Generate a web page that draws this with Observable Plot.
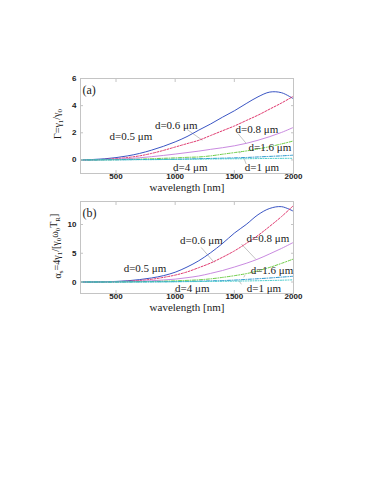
<!DOCTYPE html>
<html><head><meta charset="utf-8">
<script src="https://cdn.jsdelivr.net/npm/d3@7"></script>
<script src="https://cdn.jsdelivr.net/npm/@observablehq/plot@0.6"></script>
<style>
body{margin:0;background:#fff;}
#wrap{position:relative;width:382px;height:494px;overflow:hidden;background:#fff;}
#wrap svg{position:absolute;left:0;overflow:visible;background:transparent;}
</style></head><body><div id="wrap"></div>
<script>
// ---- data ----
const wavelengths = [200,300,400,500,600,700,800,900,1000,1100,1200,1300,1400,1500,1600,1700,1800,1900,2000];
const seriesKeys = ["d06","d05","d08","d16","d1","d4"];
const seriesColors = ["#3a55c4","#e0386e","#c98ae0","#6ccc44","#2a96cc","#3ec8c8"];
const seriesDash = ["none","2,1.5","none","3,1.5,1,1.5","3,1.5,1,1.5","1,1.5"];

// panel (a): Gamma = gamma1/gamma0
const gammaA = [
  [0,0.03,0.08,0.17,0.30,0.48,0.72,1.00,1.33,1.72,2.20,2.65,3.15,3.62,4.15,4.65,5.00,4.95,4.50],
  [0,0.01,0.04,0.10,0.18,0.30,0.48,0.70,0.95,1.20,1.45,1.80,2.15,2.50,2.90,3.30,3.75,4.20,4.70],
  [0,0.00,0.02,0.05,0.10,0.16,0.24,0.33,0.43,0.54,0.65,0.78,0.90,1.04,1.22,1.45,1.72,2.03,2.40],
  [0,0.00,0.01,0.02,0.04,0.06,0.09,0.12,0.15,0.19,0.22,0.30,0.42,0.54,0.66,0.81,0.98,1.18,1.40],
  [0,0.00,0.01,0.01,0.02,0.03,0.03,0.04,0.05,0.07,0.09,0.11,0.13,0.15,0.18,0.22,0.26,0.30,0.35],
  [0,0.00,0.00,0.01,0.01,0.02,0.02,0.03,0.04,0.05,0.06,0.07,0.08,0.085,0.09,0.10,0.11,0.115,0.12]
];
// panel (b): alpha_s = 4 gamma1/[gamma0 omega0 T_R]
const alphaB = [
  [0,0.01,0.04,0.10,0.22,0.42,0.70,1.10,1.70,2.60,3.70,5.10,6.70,8.50,10.0,11.7,12.8,13.1,12.3],
  [0,0.00,0.02,0.06,0.14,0.27,0.47,0.80,1.20,1.75,2.50,3.30,4.30,5.40,6.70,8.10,9.70,11.4,13.3],
  [0,0.00,0.01,0.03,0.07,0.13,0.22,0.35,0.50,0.75,1.05,1.50,2.00,2.60,3.25,4.00,4.90,5.85,6.90],
  [0,0.00,0.00,0.01,0.03,0.06,0.09,0.14,0.20,0.28,0.38,0.55,0.80,1.10,1.45,1.95,2.55,3.25,4.00],
  [0,0.00,0.00,0.01,0.01,0.02,0.03,0.04,0.06,0.10,0.15,0.20,0.25,0.33,0.45,0.57,0.70,0.85,1.00],
  [0,0.00,0.00,0.00,0.01,0.01,0.02,0.03,0.05,0.06,0.08,0.10,0.12,0.15,0.18,0.22,0.26,0.31,0.38]
];
const xTicks = [500,1000,1500,2000];
const yTicksA = [0,2,4,6];
const yTicksB = [0,5,10];

// annotation labels (text, wavelength, value)
const labelTexts = ["d=0.5 μm","d=0.6 μm","d=0.8 μm","d=1.6 μm","d=4 μm","d=1 μm"];
const labelWA = [626,1009,1691,1801,1128,1733];
const labelVA = [1.70,2.52,2.22,0.89,-0.52,-0.52];
const labelWB = [745,1222,1784,1818,1145,1750];
const labelVB = [2.35,7.15,7.5,2.0,-1.05,-1.05];
// leader lines: [w1,v1,w2,v2]
const leadersA = [[1100,2.25,1230,1.45],[1530,1.95,1600,1.22],[1560,0.62,1540,0.5],[1600,-0.3,1580,0.15]];
const leadersB = [[1220,6.0,1330,3.4],[1560,6.6,1680,4.0],[1590,1.2,1580,0.8],[1560,-0.4,1540,0.2]];

function rowsFor(vals){
  const out = [];
  seriesKeys.forEach((k,i)=> vals[i].forEach((v,j)=> out.push({key:k, w:wavelengths[j], v})));
  return out;
}

function makePanel({vals, yDomain, yTicks, lw, lv, leaders, tag, height, marginTop}){
  const rows = rowsFor(vals);
  const labels = labelTexts.map((t,i)=>({t, w:lw[i], v:lv[i]}));
  const leads = leaders.map(d=>({w1:d[0],v1:d[1],w2:d[2],v2:d[3]}));
  const lineMarks = seriesKeys.map((k,i)=> Plot.line(rows.filter(r=>r.key===k), {
    x:"w", y:"v", stroke: seriesColors[i], strokeWidth: 1,
    strokeDasharray: seriesDash[i] === "none" ? null : seriesDash[i], curve:"catmull-rom"
  }));
  return Plot.plot({
    width: 382, height, marginLeft: 80, marginRight: 89, marginTop, marginBottom: 27,
    x: {domain:[200,2000]}, y: {domain: yDomain},
    style: {fontFamily:"Liberation Sans, Arial, sans-serif", fontSize:"8px", color:"#222", overflow:"visible", background:"transparent"},
    marks: [
      Plot.link(leads, {x1:"w1", y1:"v1", x2:"w2", y2:"v2", stroke:"#aaa", strokeWidth:0.7}),
      ...lineMarks,
      Plot.frame({stroke:"#c4c4c4"}),
      Plot.axisX(xTicks, {anchor:"bottom", tickSize:-3, tickPadding:3, tickFormat:d3.format("d"), label:null, stroke:"#c4c4c4", fontWeight:"bold"}),
      Plot.axisX(xTicks, {anchor:"top", tickSize:-3, tickFormat:()=>"", label:null, stroke:"#c4c4c4"}),
      Plot.axisY(yTicks, {anchor:"left", tickSize:-3, tickPadding:7, tickFormat:d3.format("d"), label:null, stroke:"#c4c4c4", fontWeight:"bold"}),
      Plot.axisY(yTicks, {anchor:"right", tickSize:-3, tickFormat:()=>"", label:null, stroke:"#c4c4c4"}),
      Plot.text(labels, {x:"w", y:"v", text:"t", fontFamily:"Liberation Serif, serif", fontSize:11, fill:"#222"}),
      Plot.text([tag], {frameAnchor:"top-left", dx:2, dy:7, textAnchor:"start", fontFamily:"Liberation Serif, serif", fontSize:12, fill:"#222"}),
      Plot.text(["wavelength [nm]"], {frameAnchor:"bottom", dy:17, fontFamily:"Liberation Serif, serif", fontSize:11, fill:"#222"})
    ]
  });
}

function addYLabel(svg, parts, cx, cy, size){
  const t = d3.select(svg).append("text")
    .attr("transform", `translate(${cx},${cy}) rotate(-90)`)
    .attr("text-anchor","middle")
    .attr("font-family","Liberation Serif, serif")
    .attr("font-size", size)
    .attr("fill","#222");
  parts.forEach(([s,sub])=>{
    t.append("tspan").attr("dy", sub ? "0.3em" : (t.node().childNodes.length ? "-0.3em" : "0"))
      .attr("font-size", sub ? size*0.7 : size).text(s);
  });
}

const wrap = document.getElementById("wrap");
const a = makePanel({vals:gammaA, yDomain:[-1,6], yTicks:yTicksA, lw:labelWA, lv:labelVA, leaders:leadersA, tag:"(a)", height:200, marginTop:78});
a.style.top = "0px";
wrap.appendChild(a);
addYLabel(a, [["Γ=γ",0],["1",1],["/γ",0],["0",1]], 64, 124, 10);

const b = makePanel({vals:alphaB, yDomain:[-2,14], yTicks:yTicksB, lw:labelWB, lv:labelVB, leaders:leadersB, tag:"(b)", height:130, marginTop:11});
b.style.top = "190px";
wrap.appendChild(b);
addYLabel(b, [["α",0],["s",1],["=4γ",0],["1",1],["/[γ",0],["0",1],["ω",0],["0",1],["T",0],["R",1],["]",0]], 64, 56, 10);
</script>
</body></html>
